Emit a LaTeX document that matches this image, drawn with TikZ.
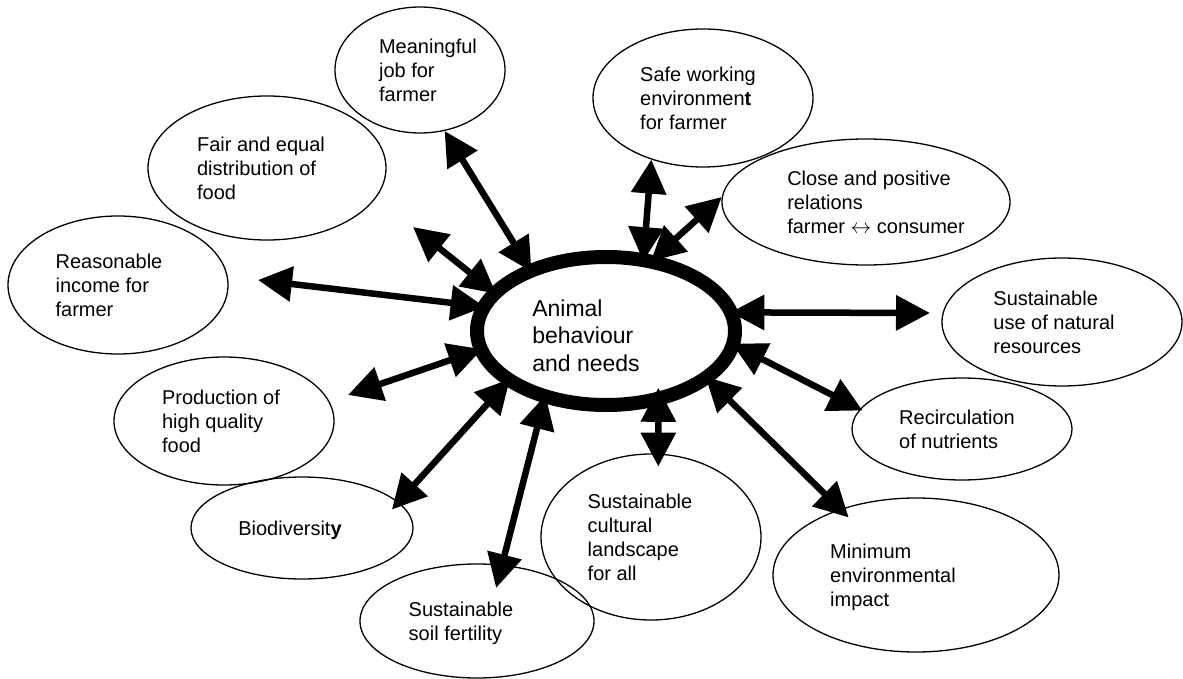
\documentclass[tikz,border=0pt]{standalone}
\usepackage{fontspec}
\setmainfont{Liberation Sans}
\usetikzlibrary{shapes.geometric,arrows.meta}

\newcommand{\goallines}[2][0pt]{\hspace*{#1}\raisebox{-3pt}[\height][\depth]{\begin{tabular}{@{}l@{}}#2\end{tabular}}}

\begin{document}
\begin{tikzpicture}[x=1pt,y=-1pt,
    goal/.style 2 args={draw, ellipse, line width=1.3pt, inner sep=0pt,
        minimum width=#1, minimum height=#2, font=\fontsize{20}{24}\selectfont},
    link/.style={line width=6.5pt, shorten >=-8pt,
        {Triangle[length=34pt,width=34pt]}-{Triangle[length=34pt,width=34pt]}}]
    \useasboundingbox (0,0) rectangle (1183,679);

    \node[goal={258pt}{148pt}, line width=14pt, font=\fontsize{23}{27.5}\selectfont] (hub) at (606,331) {\raisebox{-4pt}[\height][\depth]{\goallines[-40pt]{Animal\\behaviour\\and needs}}};

    \node[goal={170pt}{126pt}] (meaning) at (420,70) {\goallines[16pt]{Meaningful\\job for\\farmer}};
    \node[goal={220pt}{138pt}] (safe) at (703,98) {\goallines[-10pt]{Safe working\\environmen\textbf{t}\\for farmer}};
    \node[goal={288pt}{126pt}] (relations) at (866,202) {\goallines[20pt]{Close and positive\\relations\\farmer $\leftrightarrow$ consumer}};
    \node[goal={238pt}{144pt}] (fair) at (267,168) {\goallines[-12pt]{Fair and equal\\distribution of\\food}};
    \node[goal={220pt}{138pt}] (income) at (118,285) {\goallines[-18pt]{Reasonable\\income for\\farmer}};
    \node[goal={220pt}{128pt}] (quality) at (224,421) {\goallines[-6pt]{Production of\\high quality\\food}};
    \node[goal={222pt}{102pt}] (biodiv) at (302,528) {\goallines[-24pt]{Biodiversit\textbf{y}}};
    \node[goal={234pt}{114pt}] (soil) at (477,621) {\goallines[-32pt]{Sustainable\\soil fertility}};
    \node[goal={220pt}{166pt}] (landscape) at (651,537) {\goallines[-22pt]{Sustainable\\cultural\\landscape\\for all}};
    \node[goal={286pt}{154pt}] (impact) at (916,575) {\goallines[-46pt]{Minimum\\environmental\\impact}};
    \node[goal={220pt}{102pt}] (nutrients) at (962,429) {\goallines[-10pt]{Recirculation\\of nutrients}};
    \node[goal={240pt}{128pt}] (resources) at (1062,322) {\goallines[-16pt]{Sustainable\\use of natural\\resources}};

    \coordinate (fairEnd) at (413,227);
    \coordinate (incomeEnd) at (258,280);
    \coordinate (qualityEnd) at (348,395);
    \coordinate (resourcesEnd) at (930,313);

    \draw[link] (meaning.292) -- (hub.140);
    \draw[link] (safe.230) -- (hub.64);
    \draw[link] (relations.178) -- (hub.56);
    \draw[link] (fairEnd) -- (hub.160);
    \draw[link] (incomeEnd) -- (hub.169);
    \draw[link] (qualityEnd) -- (hub.189);
    \draw[link, shorten <=-10pt] (biodiv.15) -- (hub.208);
    \draw[link, shorten <=-24pt] (soil.66) -- (hub.229);
    \draw[link, shorten <=-13pt, shorten >=-18pt] (landscape.85) -- (hub.305);
    \draw[link, shorten <=-12pt] (impact.139) -- (hub.334);
    \draw[link, shorten <=-3pt] (nutrients.169) -- (hub.353);
    \draw[link] (resourcesEnd) -- (hub.8);
\end{tikzpicture}
\end{document}
